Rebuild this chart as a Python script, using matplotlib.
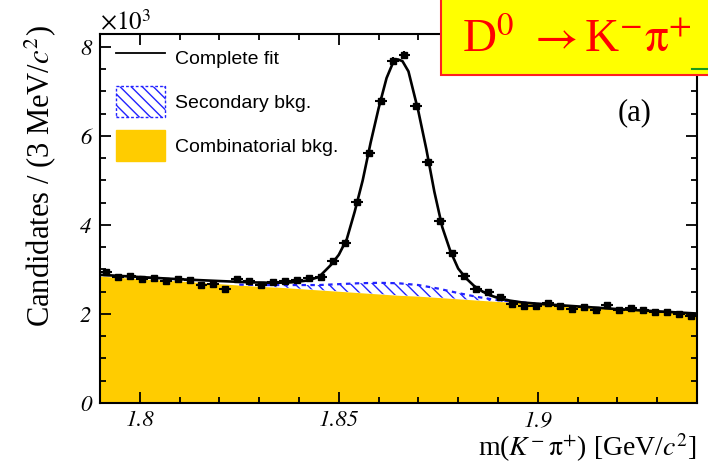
import numpy as np
import matplotlib
matplotlib.use('Agg')
import matplotlib.pyplot as plt
from matplotlib.patches import Patch, Rectangle
from matplotlib.lines import Line2D

plt.rcParams['font.family'] = ['Liberation Serif', 'STIXGeneral']
plt.rcParams['mathtext.fontset'] = 'stix'
plt.rcParams['hatch.linewidth'] = 1.0

# binning: 3 MeV bins from 1.79 to 1.94 GeV
bin_lo = 1.79
bin_w = 0.003
# candidates per bin (x10^3)
counts = [2.95, 2.84, 2.86, 2.78, 2.80, 2.74, 2.79, 2.76, 2.65, 2.67,
          2.55, 2.79, 2.73, 2.64, 2.71, 2.74, 2.76, 2.80, 2.82, 3.20,
          3.60, 4.51, 5.62, 6.79, 7.69, 7.82, 6.67, 5.42, 4.10, 3.38,
          2.86, 2.56, 2.49, 2.39, 2.23, 2.17, 2.17, 2.25, 2.19, 2.12,
          2.16, 2.09, 2.20, 2.08, 2.14, 2.08, 2.04, 2.05, 2.01, 1.96]

# complete fit curve
fit_x = [1.79, 1.80, 1.81, 1.82, 1.828, 1.834, 1.838, 1.842, 1.845, 1.848,
         1.850, 1.852, 1.854, 1.856, 1.858, 1.860, 1.862, 1.8635, 1.8648, 1.866,
         1.8675, 1.870, 1.872, 1.874, 1.876, 1.878, 1.880, 1.882, 1.884, 1.886,
         1.888, 1.890, 1.893, 1.896, 1.90, 1.91, 1.92, 1.93, 1.94]
fit_y = [2.88, 2.83, 2.78, 2.74, 2.71, 2.70, 2.71, 2.75, 2.83, 3.10,
         3.33, 3.68, 4.30, 5.00, 5.85, 6.62, 7.30, 7.62, 7.72, 7.68,
         7.45, 6.55, 5.70, 4.75, 3.95, 3.42, 3.02, 2.80, 2.63, 2.51,
         2.42, 2.36, 2.30, 2.26, 2.23, 2.17, 2.11, 2.06, 2.01]

# background components
bkg_x = [1.79, 1.80, 1.81, 1.82, 1.825, 1.83, 1.835, 1.84, 1.845, 1.85,
         1.855, 1.86, 1.865, 1.87, 1.875, 1.88, 1.885, 1.89, 1.895, 1.90,
         1.905, 1.91, 1.92, 1.93, 1.94]
comb_y = [2.85, 2.79, 2.74, 2.68, 2.65, 2.62, 2.60, 2.57, 2.54, 2.51,
          2.48, 2.45, 2.42, 2.40, 2.37, 2.34, 2.31, 2.28, 2.26, 2.23,
          2.20, 2.17, 2.11, 2.06, 2.00]
sec_y = [0.0, 0.0, 0.0, 0.0, 0.01, 0.03, 0.05, 0.08, 0.11, 0.16,
         0.21, 0.25, 0.27, 0.25, 0.20, 0.13, 0.07, 0.03, 0.01, 0.0,
         0.0, 0.0, 0.0, 0.0, 0.0]

xticks = [1.8, 1.85, 1.9]
xtick_labels = ['1.8', '1.85', '1.9']
yticks = [0, 2, 4, 6, 8]
ytick_labels = ['0', '2', '4', '6', '8']

centers = bin_lo + bin_w * (np.arange(len(counts)) + 0.5)
counts = np.array(counts)
yerr = np.sqrt(counts * 1000) / 1000
comb = np.array(comb_y)
sec_top = comb + np.array(sec_y)
bx = np.array(bkg_x)
sec_mask = (bx >= 1.825) & (bx <= 1.905)

W, H = 708, 465
fig = plt.figure(figsize=(W / 100, H / 100), dpi=100)
ax = fig.add_axes([100 / W, 1 - 403 / H, 597 / W, 369 / H])

ax.fill_between(bkg_x, 0, comb, color='#ffcc00', lw=0, zorder=1)
ax.fill_between(bx[sec_mask], comb[sec_mask], sec_top[sec_mask], facecolor='none',
                edgecolor='#2222ff', hatch='\\\\\\', lw=0, zorder=2)
ax.plot(bx[sec_mask], sec_top[sec_mask], color='#2222ff', lw=1.6,
        dashes=(2, 2), zorder=3)
ax.plot(fit_x, fit_y, color='black', lw=1.9, zorder=4)
ax.errorbar(centers, counts, xerr=bin_w / 2, yerr=yerr, fmt='s', color='black',
            ms=4.2, elinewidth=1.5, capsize=0, zorder=5)

ax.set_xlim(1.79, 1.94)
ax.set_ylim(0, 8.29)
tick_font = {'family': 'STIXGeneral', 'style': 'italic', 'size': 16.5}
ax.set_xticks(xticks, labels=xtick_labels, fontdict=tick_font)
ax.set_yticks(yticks, labels=ytick_labels, fontdict=tick_font)
ax.set_xticks(np.arange(1.79, 1.9401, 0.01), minor=True)
ax.set_yticks(np.arange(0, 8.3, 0.5), minor=True)
ax.tick_params(which='both', direction='in', top=True, right=True, width=1.3)
ax.tick_params(which='major', length=8)
ax.tick_params(which='minor', length=4.5)
ax.tick_params(axis='x', pad=5)
ax.tick_params(axis='y', pad=6)
for sp in ax.spines.values():
    sp.set_linewidth(1.5)

handles = [Line2D([], [], color='black', lw=1.3),
           Patch(facecolor='white', edgecolor='#2222ff', hatch='\\\\\\',
                 linestyle=(0, (2, 1.5)), lw=1.0),
           Patch(facecolor='#ffcc00', edgecolor='#ffcc00')]
labels = ['Complete fit', 'Secondary bkg.', 'Combinatorial bkg.']
ax.legend(handles, labels, loc='upper left', bbox_to_anchor=(0.027, 0.977),
          frameon=False, borderpad=0, borderaxespad=0, handlelength=2.5,
          handleheight=2.07, labelspacing=0.67, handletextpad=0.55,
          prop={'family': 'Liberation Sans', 'size': 14})

fig.text(40 / W, 1 - 25 / H, r'Candidates / (3 MeV/$c^{2}$)', rotation=90,
         ha='center', va='top', fontsize=22)
fig.text(697 / W, 1 - 456 / H, r'm($K^{-}\,$$\mathrm{\pi}^{+}$) [GeV/$c^{2}$]',
         ha='right', va='baseline', fontsize=20)
fig.text(100 / W, 1 - 30 / H, r'$\mathit{\times10^{3}}$', ha='left',
         va='baseline', fontsize=18)
fig.text(635 / W, 1 - 113 / H, '(a)', ha='center', va='center', fontsize=22)

fig.add_artist(Rectangle((441 / W, 1 - 75 / H), 0.5, 80 / H,
                         transform=fig.transFigure, facecolor='#ffff00',
                         edgecolor='#ff2020', lw=1.5, zorder=10))
fig.text(462 / W, 1 - 52 / H, r'D$^{0}$ $\rightarrow$K$^{-}$$\mathrm{\pi}^{+}$',
         color='#ff0000', fontsize=34, ha='left', va='baseline', zorder=11)
fig.add_artist(Line2D([692 / W, 1.0], [1 - 69 / H, 1 - 69 / H],
                      transform=fig.transFigure, color='#1a9a1a', lw=1.5,
                      zorder=11))

fig.savefig('out.png', dpi=100)
